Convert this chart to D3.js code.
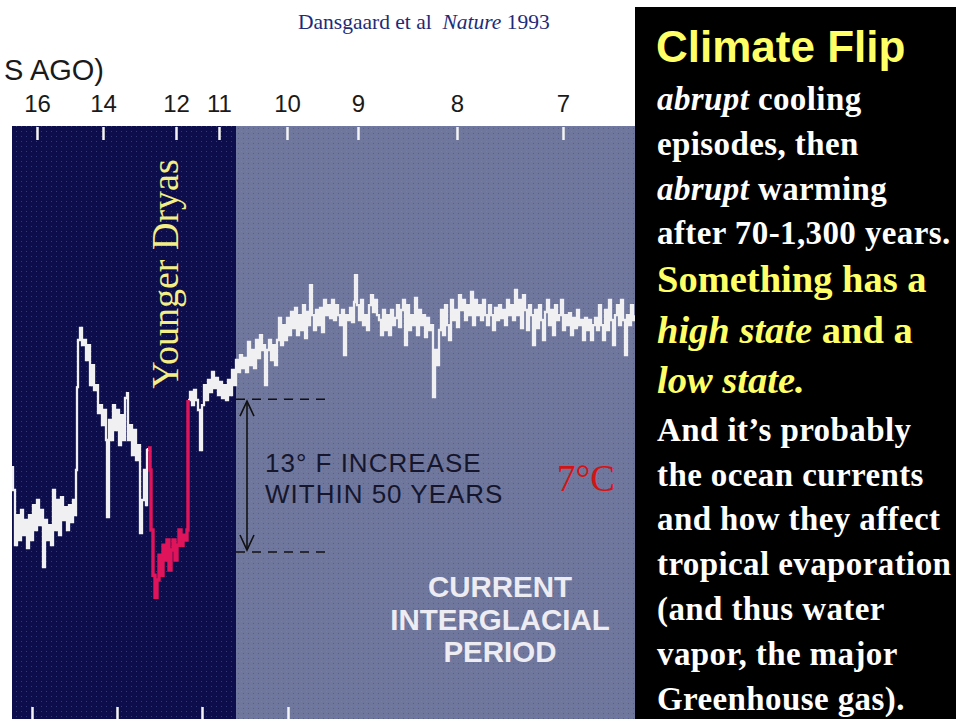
<!DOCTYPE html>
<html>
<head>
<meta charset="utf-8">
<script src="https://cdn.jsdelivr.net/npm/d3@7"></script>
<style>
    body { margin: 0; background: #fff; }
    svg { display: block; }
</style>
</head>
<body>
<div id="chart"></div>
<script>

// GRIP ice core: [depth (m), d18O (permil)]
var glacialAndBolling = [
    [1936,-38.68],[1935,-39.25],[1933,-40.63],[1931,-39.88],[1929,-40.50],[1927,-39.75],[1925,-40.38],
    [1923,-40.00],[1921,-40.70],[1919,-39.88],[1917,-40.50],[1915,-39.63],[1913,-40.25],[1911,-39.50],
    [1909,-40.13],[1907,-39.75],[1905,-41.18],[1903,-40.00],[1901,-40.50],[1899,-40.13],[1897,-40.63],
    [1895,-39.25],[1893,-40.25],[1891,-39.50],[1889,-40.38],[1887,-39.43],[1885,-40.00],[1883,-39.68],
    [1881,-40.25],[1879,-39.63],[1877,-40.05],[1875,-39.50],[1873,-39.88],[1872,-38.75],[1871,-36.68],
    [1870,-35.50],[1868,-35.20],[1866,-35.63],[1864,-35.50],[1862,-36.00],[1860,-35.63],[1858,-36.63],
    [1856,-36.13],[1854,-36.75],[1852,-36.63],[1850,-37.33],[1848,-37.13],[1846,-37.63],[1844,-37.25],
    [1842,-38.00],[1841,-39.93],[1839,-37.50],[1837,-38.00],[1835,-37.13],[1833,-37.75],[1831,-37.25],
    [1829,-38.13],[1827,-37.38],[1825,-38.00],[1823,-36.95],[1821,-36.83],[1820,-38.00],[1818,-37.63],
    [1816,-38.38],[1814,-37.75],[1812,-38.50],[1810,-38.13],[1808,-40.33],[1806,-39.50],[1804,-38.75],
    [1802,-39.63],[1801,-38.25],[1800,-38.20]
];

var youngerDryas = [
    [1800,-38.20],[1798,-38.75],[1797,-40.25],[1795,-41.38],[1793,-41.93],[1791,-41.50],[1789,-40.88],
    [1787,-41.38],[1785,-40.63],[1783,-41.00],[1781,-40.50],[1779,-41.25],[1777,-40.75],[1775,-40.50],
    [1773,-41.00],[1771,-40.63],[1769,-40.25],[1767,-40.63],[1765,-40.38],[1763,-40.50],[1761,-40.25],
    [1760,-37.00]
];

var holocene = [
    [1760,-37.00],[1758,-36.80],[1756,-37.13],[1754,-36.75],[1752,-37.00],[1750,-37.25],[1748,-38.25],
    [1746,-37.13],[1744,-36.63],[1742,-37.00],[1740,-36.50],[1738,-36.80],[1736,-36.30],[1734,-36.70],
    [1732,-36.45],[1730,-36.88],[1728,-36.55],[1726,-36.95],[1724,-36.63],[1722,-37.00],[1720,-36.50],
    [1718,-36.88],[1716,-36.25],[1714,-36.63],[1712,-36.00],[1710,-36.30],[1708,-35.88],[1706,-36.20],
    [1704,-35.95],[1702,-36.30],[1700,-35.55],[1698,-36.13],[1696,-35.75],[1694,-36.20],[1692,-35.50],
    [1690,-35.95],[1688,-35.38],[1686,-35.75],[1684,-35.63],[1683,-36.63],[1681,-35.75],[1679,-35.50],
    [1677,-36.00],[1675,-35.63],[1673,-36.13],[1671,-35.50],[1669,-34.95],[1667,-35.63],[1665,-35.13],
    [1663,-35.50],[1661,-34.95],[1659,-35.38],[1657,-34.80],[1655,-35.20],[1653,-34.70],[1651,-35.38],
    [1649,-34.88],[1647,-35.25],[1645,-34.63],[1643,-35.45],[1641,-34.80],[1639,-35.13],[1638,-34.13],
    [1636,-34.88],[1634,-35.25],[1632,-34.75],[1630,-35.13],[1628,-34.70],[1626,-35.30],[1624,-34.50],
    [1622,-34.88],[1620,-34.63],[1618,-34.95],[1616,-34.50],[1614,-35.00],[1612,-34.63],[1610,-34.88],
    [1608,-35.13],[1606,-34.75],[1604,-35.88],[1602,-34.88],[1600,-35.00],[1598,-34.70],[1596,-35.05],
    [1594,-34.55],[1593,-33.88],[1591,-34.63],[1589,-35.00],[1587,-34.50],[1585,-35.13],[1583,-34.88],
    [1581,-35.25],[1579,-34.63],[1577,-34.38],[1575,-34.80],[1573,-34.50],[1571,-34.88],[1569,-35.00],
    [1567,-35.38],[1565,-34.75],[1563,-35.25],[1561,-34.88],[1559,-35.38],[1557,-34.75],[1555,-35.13],
    [1553,-34.95],[1551,-34.63],[1549,-35.18],[1547,-34.75],[1545,-34.50],[1543,-35.63],[1541,-34.63],
    [1539,-35.25],[1537,-34.88],[1535,-35.13],[1533,-34.45],[1531,-35.38],[1529,-34.75],[1527,-35.13],
    [1525,-34.88],[1523,-35.43],[1521,-34.95],[1519,-35.25],[1517,-35.13],[1515,-36.93],[1513,-35.75],
    [1511,-36.13],[1509,-35.25],[1507,-34.75],[1505,-35.38],[1503,-34.63],[1501,-35.13],[1499,-35.50],
    [1497,-34.50],[1495,-35.00],[1493,-34.75],[1491,-35.18],[1489,-34.38],[1487,-34.75],[1485,-34.50],
    [1483,-35.00],[1481,-34.63],[1479,-34.88],[1477,-34.30],[1475,-35.13],[1473,-34.50],[1471,-34.88],
    [1469,-34.63],[1467,-35.00],[1465,-34.50],[1463,-34.88],[1461,-35.13],[1459,-34.63],[1457,-34.88],
    [1455,-35.25],[1453,-34.70],[1451,-35.00],[1449,-34.63],[1447,-34.95],[1445,-34.75],[1443,-35.13],
    [1441,-34.50],[1439,-34.88],[1437,-34.63],[1435,-35.00],[1433,-34.25],[1431,-34.88],[1429,-34.50],
    [1427,-35.20],[1425,-34.38],[1423,-34.75],[1421,-35.25],[1419,-34.63],[1417,-34.88],[1415,-35.63],
    [1413,-34.75],[1411,-35.20],[1409,-34.63],[1407,-35.00],[1405,-35.50],[1403,-34.80],[1401,-34.50],
    [1399,-35.13],[1397,-34.75],[1395,-35.38],[1393,-34.63],[1391,-35.00],[1389,-34.88],[1387,-34.50],
    [1385,-35.25],[1383,-34.88],[1381,-35.13],[1379,-34.83],[1377,-35.38],[1375,-34.95],[1373,-35.20],
    [1371,-34.75],[1369,-35.13],[1367,-35.00],[1365,-35.50],[1363,-34.95],[1361,-35.25],[1359,-35.00],
    [1357,-35.50],[1355,-35.13],[1353,-34.95],[1351,-35.25],[1349,-34.63],[1347,-35.13],[1345,-35.50],
    [1343,-34.75],[1341,-35.25],[1339,-34.50],[1337,-35.00],[1335,-35.63],[1333,-34.88],[1331,-34.63],
    [1329,-35.13],[1327,-34.50],[1325,-35.00],[1323,-35.88],[1321,-34.88],[1319,-35.13],[1317,-34.63],
    [1315,-35.00],[1313,-34.88]
];

// age axis (thousands of years ago) and where each age sits in the core
var ageTickLabels = [16, 14, 12, 11, 10, 9, 8, 7];
var ageTickDepths = [1911, 1845, 1772, 1729, 1661, 1590, 1491, 1385];
var ageAxisTitle = "S AGO)";
var depthTicks = [1916, 1831, 1746, 1660];
var coreDepthExtent = [1936, 1313];
var holoceneStartDepth = 1712;

// 13F / 7C jump: cold level, warm level (permil) and the span of the dashes
var jumpLevels = [-40.80, -36.98];
var jumpDashDepths = [1712, 1618];
var jumpArrowDepth = 1701;
var jumpNote = ["13\u00b0 F INCREASE", "WITHIN 50 YEARS"];
var periodNote = ["CURRENT", "INTERGLACIAL", "PERIOD"];

var panelTitle = "Climate Flip";
var panelLines = [
    { kind: "fact", parts: [["abrupt", true], [" cooling", false]] },
    { kind: "fact", parts: [["episodes, then", false]] },
    { kind: "fact", parts: [["abrupt", true], [" warming", false]] },
    { kind: "fact", parts: [["after 70-1,300 years.", false]] },
    { kind: "claim", parts: [["Something has a", false]] },
    { kind: "claim", parts: [["high state", true], [" and a", false]] },
    { kind: "claim", parts: [["low state.", true]] },
    { kind: "fact", parts: [["And it\u2019s probably", false]] },
    { kind: "fact", parts: [["the ocean currents", false]] },
    { kind: "fact", parts: [["and how they affect", false]] },
    { kind: "fact", parts: [["tropical evaporation", false]] },
    { kind: "fact", parts: [["(and thus water", false]] },
    { kind: "fact", parts: [["vapor, the major", false]] },
    { kind: "fact", parts: [["Greenhouse gas).", false]] }
];


/*
 * ClimateFlipVis - ice core record with the Younger Dryas flip
 */

ClimateFlipVis = function(_parentElement){
    this.parentElement = _parentElement;
    this.initVis();
}

ClimateFlipVis.prototype.initVis = function(){
    var vis = this;

    vis.width = 956;
    vis.height = 719;
    vis.plotTop = 126;

    vis.svg = d3.select("#" + vis.parentElement).append("svg")
        .attr("width", vis.width)
        .attr("height", vis.height);

    vis.x = d3.scaleLinear()
        .domain(coreDepthExtent)
        .range([12, 635]);

    vis.y = d3.scaleLinear()
        .domain([-35, -40])
        .range([320, 520]);

    // speckle texture like the scanned slide
    var defs = vis.svg.append("defs");
    var speck = defs.append("pattern")
        .attr("id", "speck")
        .attr("width", 5).attr("height", 5)
        .attr("patternUnits", "userSpaceOnUse");
    speck.append("rect").attr("x", 1).attr("y", 1).attr("width", 1).attr("height", 1)
        .attr("fill", "rgba(120,140,210,0.35)");
    speck.append("rect").attr("x", 3).attr("y", 3).attr("width", 1).attr("height", 1)
        .attr("fill", "rgba(20,25,70,0.25)");

    defs.append("clipPath").attr("id", "plot-clip")
        .append("rect")
        .attr("x", vis.x(coreDepthExtent[0]))
        .attr("y", vis.plotTop)
        .attr("width", vis.x(coreDepthExtent[1]) - vis.x(coreDepthExtent[0]))
        .attr("height", vis.height - vis.plotTop);

    vis.svg.append("text")
        .attr("x", 298)
        .attr("y", 29)
        .style("font-family", "'Liberation Serif', 'Times New Roman', serif")
        .style("font-size", "21.5px")
        .attr("fill", "#1d2b7a")
        .html("Dansgaard et al&#160; <tspan font-style='italic'>Nature</tspan> 1993");

    vis.svg.append("text")
        .attr("x", 104)
        .attr("y", 80)
        .attr("text-anchor", "end")
        .style("font-family", "'Liberation Sans', Arial, sans-serif")
        .style("font-size", "29px")
        .attr("fill", "#1a1a1a")
        .text(ageAxisTitle);

    vis.updateVis();
}

ClimateFlipVis.prototype.updateVis = function(){
    var vis = this;
    var x = vis.x, y = vis.y;

    // glacial (dark) and current interglacial (grey) backgrounds
    var bands = [
        { from: coreDepthExtent[0], to: holoceneStartDepth, fill: "#0c0d4a" },
        { from: holoceneStartDepth, to: coreDepthExtent[1], fill: "#70779d" }
    ];
    vis.svg.selectAll(".band").data(bands).enter().append("rect")
        .attr("class", "band")
        .attr("x", function(d){ return x(d.from); })
        .attr("y", vis.plotTop)
        .attr("width", function(d){ return x(d.to) - x(d.from); })
        .attr("height", vis.height - vis.plotTop)
        .attr("fill", function(d){ return d.fill; });
    vis.svg.append("rect")
        .attr("x", x(coreDepthExtent[0]))
        .attr("y", vis.plotTop)
        .attr("width", x(coreDepthExtent[1]) - x(coreDepthExtent[0]))
        .attr("height", vis.height - vis.plotTop)
        .attr("fill", "url(#speck)");

    // age axis on top
    var ageAxis = d3.axisTop(x)
        .tickValues(ageTickDepths)
        .tickFormat(function(d, i){ return ageTickLabels[i]; })
        .tickSizeInner(-13)
        .tickSizeOuter(0)
        .tickPadding(15);
    var gTop = vis.svg.append("g")
        .attr("transform", "translate(0," + (vis.plotTop + 1) + ")")
        .call(ageAxis);
    gTop.select(".domain").remove();
    gTop.selectAll("line").attr("stroke", "#f4f4f4").attr("stroke-width", 2.5);
    gTop.selectAll("text")
        .attr("fill", "#1a1a1a")
        .style("font-family", "'Liberation Sans', Arial, sans-serif")
        .style("font-size", "24px");

    // depth ticks along the bottom
    var depthAxis = d3.axisTop(x)
        .tickValues(depthTicks)
        .tickFormat("")
        .tickSizeInner(12)
        .tickSizeOuter(0);
    var gBottom = vis.svg.append("g")
        .attr("transform", "translate(0," + vis.height + ")")
        .call(depthAxis);
    gBottom.select(".domain").remove();
    gBottom.selectAll("line").attr("stroke", "#f4f4f4").attr("stroke-width", 2.5);

    // the record itself
    var line = d3.line()
        .x(function(d){ return x(d[0]); })
        .y(function(d){ return y(d[1]); })
        .curve(d3.curveStepAfter);

    var series = [
        { values: glacialAndBolling, color: "#f0f0f2", w: 2.3 },
        { values: holocene, color: "#f0f0f2", w: 2.3 },
        { values: youngerDryas, color: "#e0145a", w: 3.4 }
    ];
    vis.svg.append("g")
        .attr("clip-path", "url(#plot-clip)")
        .selectAll("path").data(series).enter().append("path")
        .attr("d", function(d){ return line(d.values); })
        .attr("fill", "none")
        .attr("stroke", function(d){ return d.color; })
        .attr("stroke-width", function(d){ return d.w; })
        .attr("stroke-linejoin", "miter");

    // Younger Dryas label
    vis.svg.append("text")
        .attr("transform", "translate(178,274) rotate(-90)")
        .attr("text-anchor", "middle")
        .style("font-family", "'Liberation Serif', 'Times New Roman', serif")
        .style("font-size", "38px")
        .attr("fill", "#f3ee86")
        .text("Younger Dryas");

    // the jump: dashed levels and double arrow
    vis.svg.selectAll(".jump-level").data(jumpLevels).enter().append("line")
        .attr("class", "jump-level")
        .attr("x1", x(jumpDashDepths[0]))
        .attr("x2", x(jumpDashDepths[1]))
        .attr("y1", function(d){ return y(d); })
        .attr("y2", function(d){ return y(d); })
        .attr("stroke", "#111")
        .attr("stroke-width", 1.6)
        .attr("stroke-dasharray", "9,7");

    var ax = x(jumpArrowDepth), yLow = y(jumpLevels[0]), yHigh = y(jumpLevels[1]);
    vis.svg.append("line")
        .attr("x1", ax).attr("x2", ax)
        .attr("y1", yHigh + 2).attr("y2", yLow - 2)
        .attr("stroke", "#111").attr("stroke-width", 1.6);
    vis.svg.append("path")
        .attr("d", "M" + (ax - 7) + "," + (yHigh + 17) + "L" + ax + "," + (yHigh + 2) + "L" + (ax + 7) + "," + (yHigh + 17) +
            "M" + (ax - 7) + "," + (yLow - 17) + "L" + ax + "," + (yLow - 2) + "L" + (ax + 7) + "," + (yLow - 17))
        .attr("fill", "none")
        .attr("stroke", "#111").attr("stroke-width", 1.6);

    var sans = "'Liberation Sans', Arial, sans-serif";
    vis.svg.selectAll(".jump-note").data(jumpNote).enter().append("text")
        .attr("class", "jump-note")
        .attr("x", 265)
        .attr("y", function(d, i){ return 472 + i * 31; })
        .style("font-family", sans)
        .style("font-size", "26px")
        .style("letter-spacing", "1px")
        .attr("fill", "#15162c")
        .text(function(d){ return d; });

    vis.svg.append("text")
        .attr("x", 557)
        .attr("y", 491)
        .style("font-family", "'Liberation Serif', 'Times New Roman', serif")
        .style("font-size", "37px")
        .attr("fill", "#d41414")
        .text("7\u00b0C");

    vis.svg.selectAll(".period").data(periodNote).enter().append("text")
        .attr("class", "period")
        .attr("x", 500)
        .attr("y", function(d, i){ return 597 + i * 32.5; })
        .attr("text-anchor", "middle")
        .style("font-family", sans)
        .style("font-size", "29.5px")
        .style("font-weight", "bold")
        .attr("fill", "#ececf2")
        .text(function(d){ return d; });

    // black text panel on the right
    vis.svg.append("rect")
        .attr("x", 635).attr("y", 7)
        .attr("width", vis.width - 635).attr("height", vis.height - 7)
        .attr("fill", "#000");

    vis.svg.append("text")
        .attr("x", 656).attr("y", 62)
        .style("font-family", sans)
        .style("font-size", "44px")
        .style("font-weight", "bold")
        .attr("fill", "#ffff66")
        .text(panelTitle);

    var kindSize = { fact: 33, claim: 38.5 };
    var kindLeading = { fact: 44.8, claim: 50.5 };
    var kindSpacing = { fact: "0.4px", claim: "0px" };
    var kindColor = { fact: "#ffffff", claim: "#ffff66" };
    var lineY = 110, prev = null;
    panelLines.forEach(function(l){
        var size = kindSize[l.kind];
        var lead = kindLeading[l.kind];
        if (prev !== null) lineY += (prev + lead) / 2;
        prev = lead;
        var t = vis.svg.append("text")
            .attr("x", 657).attr("y", lineY)
            .style("font-family", "'Liberation Serif', 'Times New Roman', serif")
            .style("font-size", size + "px")
            .style("font-weight", "bold")
            .style("letter-spacing", kindSpacing[l.kind])
            .attr("fill", kindColor[l.kind]);
        t.selectAll("tspan").data(l.parts).enter().append("tspan")
            .style("font-style", function(d){ return d[1] ? "italic" : "normal"; })
            .style("white-space", "pre")
            .text(function(d){ return d[0]; });
    });
}

var climateVis = new ClimateFlipVis("chart");

</script>
</body>
</html>
